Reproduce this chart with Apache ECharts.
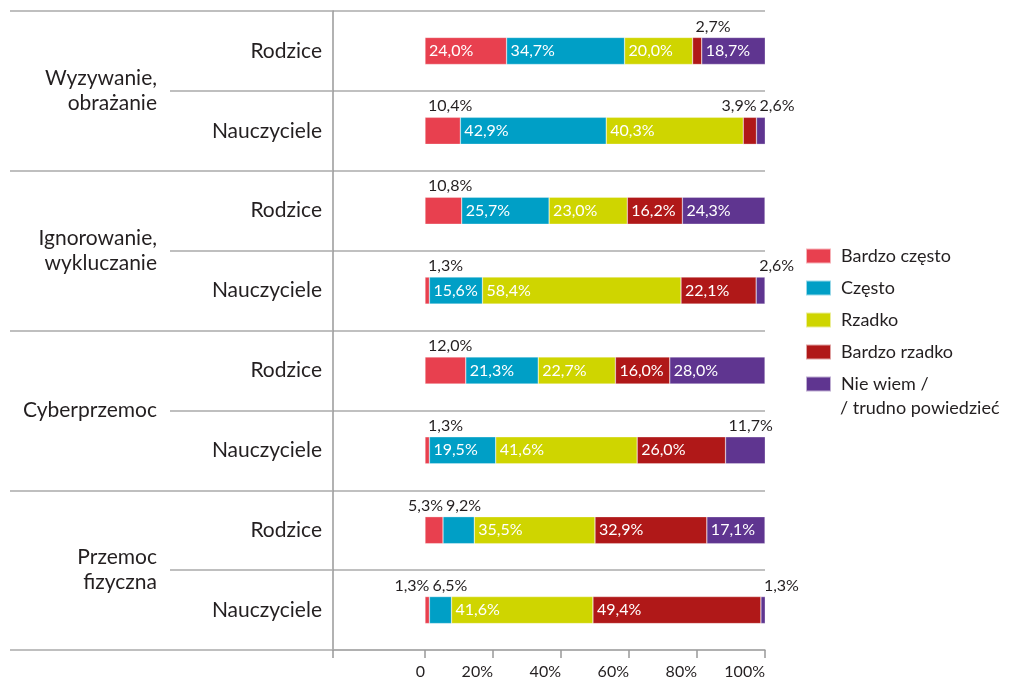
<!DOCTYPE html>
<html>
<head>
<meta charset="utf-8">
<script src="https://cdn.jsdelivr.net/npm/echarts@6/dist/echarts.min.js"></script>
<style>
  html, body { margin: 0; padding: 0; background: #ffffff; }
  #chart { width: 1011px; height: 680px; }
</style>
</head>
<body>
<div id="chart"></div>
<script>
// Survey answers: how often each form of violence is reported, by respondent group (%)
const groups = ['Wyzywanie,\nobrażanie', 'Ignorowanie,\nwykluczanie', 'Cyberprzemoc', 'Przemoc\nfizyczna'];
const respondents = ['Rodzice', 'Nauczyciele', 'Rodzice', 'Nauczyciele', 'Rodzice', 'Nauczyciele', 'Rodzice', 'Nauczyciele'];
const answerNames = ['Bardzo często', 'Często', 'Rzadko', 'Bardzo rzadko', 'Nie wiem /'];
const answerNameSecondLine = '/ trudno powiedzieć';

const bardzoCzesto = [24.0, 10.4, 10.8, 1.3, 12.0, 1.3, 5.3, 1.3];
const czesto       = [34.7, 42.9, 25.7, 15.6, 21.3, 19.5, 9.2, 6.5];
const rzadko       = [20.0, 40.3, 23.0, 58.4, 22.7, 41.6, 35.5, 41.6];
const bardzoRzadko = [2.7, 3.9, 16.2, 22.1, 16.0, 26.0, 32.9, 49.4];
const nieWiem      = [18.7, 2.6, 24.3, 2.6, 28.0, 11.7, 17.1, 1.3];

const xTickValues = [0, 20, 40, 60, 80, 100];

// ---- styling / layout ----
const colors = ['#e8404f', '#009fc6', '#cfd500', '#b01818', '#5f3590'];
const FONT = 'Lato, "Open Sans", sans-serif';
const TEXT = '#231f20';
const LINE = '#ababab';
const gridLeft = 333, zeroX = 425, plotRight = 765, chartW = 1011;
const gridTop = 11, gridBottom = 29;
// value axis starts left of zero so the frame line sits at gridLeft
const xMin = -(zeroX - gridLeft) / (plotRight - zeroX) * 100;
const insideMin = 13; // segments narrower than this get their label above the bar

const seriesValues = [bardzoCzesto, czesto, rzadko, bardzoRzadko, nieWiem];
const fmt = v => v.toFixed(1).replace('.', ',') + '%';

function itemLabel(s, i) {
  const v = seriesValues[s][i];
  if (v >= insideMin) {
    return { position: 'insideLeft', distance: 4, color: '#ffffff' };
  }
  const next = s + 1 < seriesValues.length ? seriesValues[s + 1][i] : null;
  const rightAnchored = next !== null && next < insideMin;
  return rightAnchored
    ? { position: ['100%', -3], align: 'right', verticalAlign: 'bottom', color: TEXT }
    : { position: [3, -3], align: 'left', verticalAlign: 'bottom', color: TEXT };
}

const series = seriesValues.map((vals, s) => ({
  name: answerNames[s],
  type: 'bar',
  stack: 'total',
  xAxisIndex: 0,
  yAxisIndex: 0,
  barWidth: 27,
  itemStyle: { color: colors[s], borderColor: 'rgba(255,255,255,0.6)', borderWidth: 0.5 },
  label: {
    show: true,
    fontFamily: FONT,
    fontSize: 16,
    formatter: p => fmt(p.value)
  },
  data: vals.map((v, i) => ({ value: v, label: itemLabel(s, i) }))
}));

const chart = echarts.init(document.getElementById('chart'), null, { renderer: 'canvas' });
chart.setOption({
  animation: false,
  backgroundColor: '#ffffff',
  textStyle: { fontFamily: FONT },
  grid: { left: gridLeft, right: chartW - plotRight, top: gridTop, bottom: gridBottom, containLabel: false },
  xAxis: [{
    type: 'value',
    min: xMin,
    max: 100,
    axisLine: { show: true, onZero: false, lineStyle: { color: LINE, width: 1.5 } },
    axisTick: { show: true, length: 8, customValues: [xMin].concat(xTickValues), lineStyle: { color: '#999999', width: 1.5 } },
    axisLabel: {
      customValues: xTickValues,
      align: 'right',
      margin: 14,
      fontSize: 16,
      color: TEXT,
      fontFamily: FONT,
      formatter: v => (v === 0 ? '0' : v + '%')
    },
    splitLine: { show: false }
  }],
  yAxis: [
    {
      // respondent rows, row separators and the frame line
      type: 'category',
      position: 'left',
      inverse: true,
      data: respondents,
      axisLine: { show: true, onZero: false, lineStyle: { color: '#999999', width: 1.5 } },
      axisTick: { show: true, length: gridLeft - 170, lineStyle: { color: LINE, width: 1.5 } },
      splitLine: { show: true, lineStyle: { color: LINE, width: 1.5 } },
      axisLabel: { margin: 11, fontSize: 21, color: TEXT, fontFamily: FONT }
    },
    {
      // group separators reaching to the left edge
      type: 'category',
      position: 'left',
      inverse: true,
      data: respondents,
      axisLine: { show: false, onZero: false },
      axisTick: { show: true, interval: 1, length: gridLeft - 10, lineStyle: { color: LINE, width: 1.5 } },
      axisLabel: { show: false },
      splitLine: { show: false }
    },
    {
      // group names
      type: 'category',
      position: 'left',
      inverse: true,
      data: groups,
      axisLine: { show: false, onZero: false },
      axisTick: { show: false },
      splitLine: { show: false },
      axisLabel: { margin: gridLeft - 157, fontSize: 21, lineHeight: 25, color: TEXT, fontFamily: FONT, align: 'right' }
    }
  ],
  legend: {
    orient: 'vertical',
    left: 800,
    top: 241,
    icon: 'rect',
    itemWidth: 25,
    itemHeight: 15,
    itemGap: 12,
    selectedMode: false,
    textStyle: { fontSize: 18, lineHeight: 20, color: TEXT, fontFamily: FONT, padding: [0, 0, 0, 5] },
    data: answerNames
  },
  graphic: [{
    type: 'text',
    left: 840,
    top: 399,
    style: { text: answerNameSecondLine, fontSize: 18, fill: TEXT, fontFamily: FONT }
  }],
  series: series
});
</script>
</body>
</html>
